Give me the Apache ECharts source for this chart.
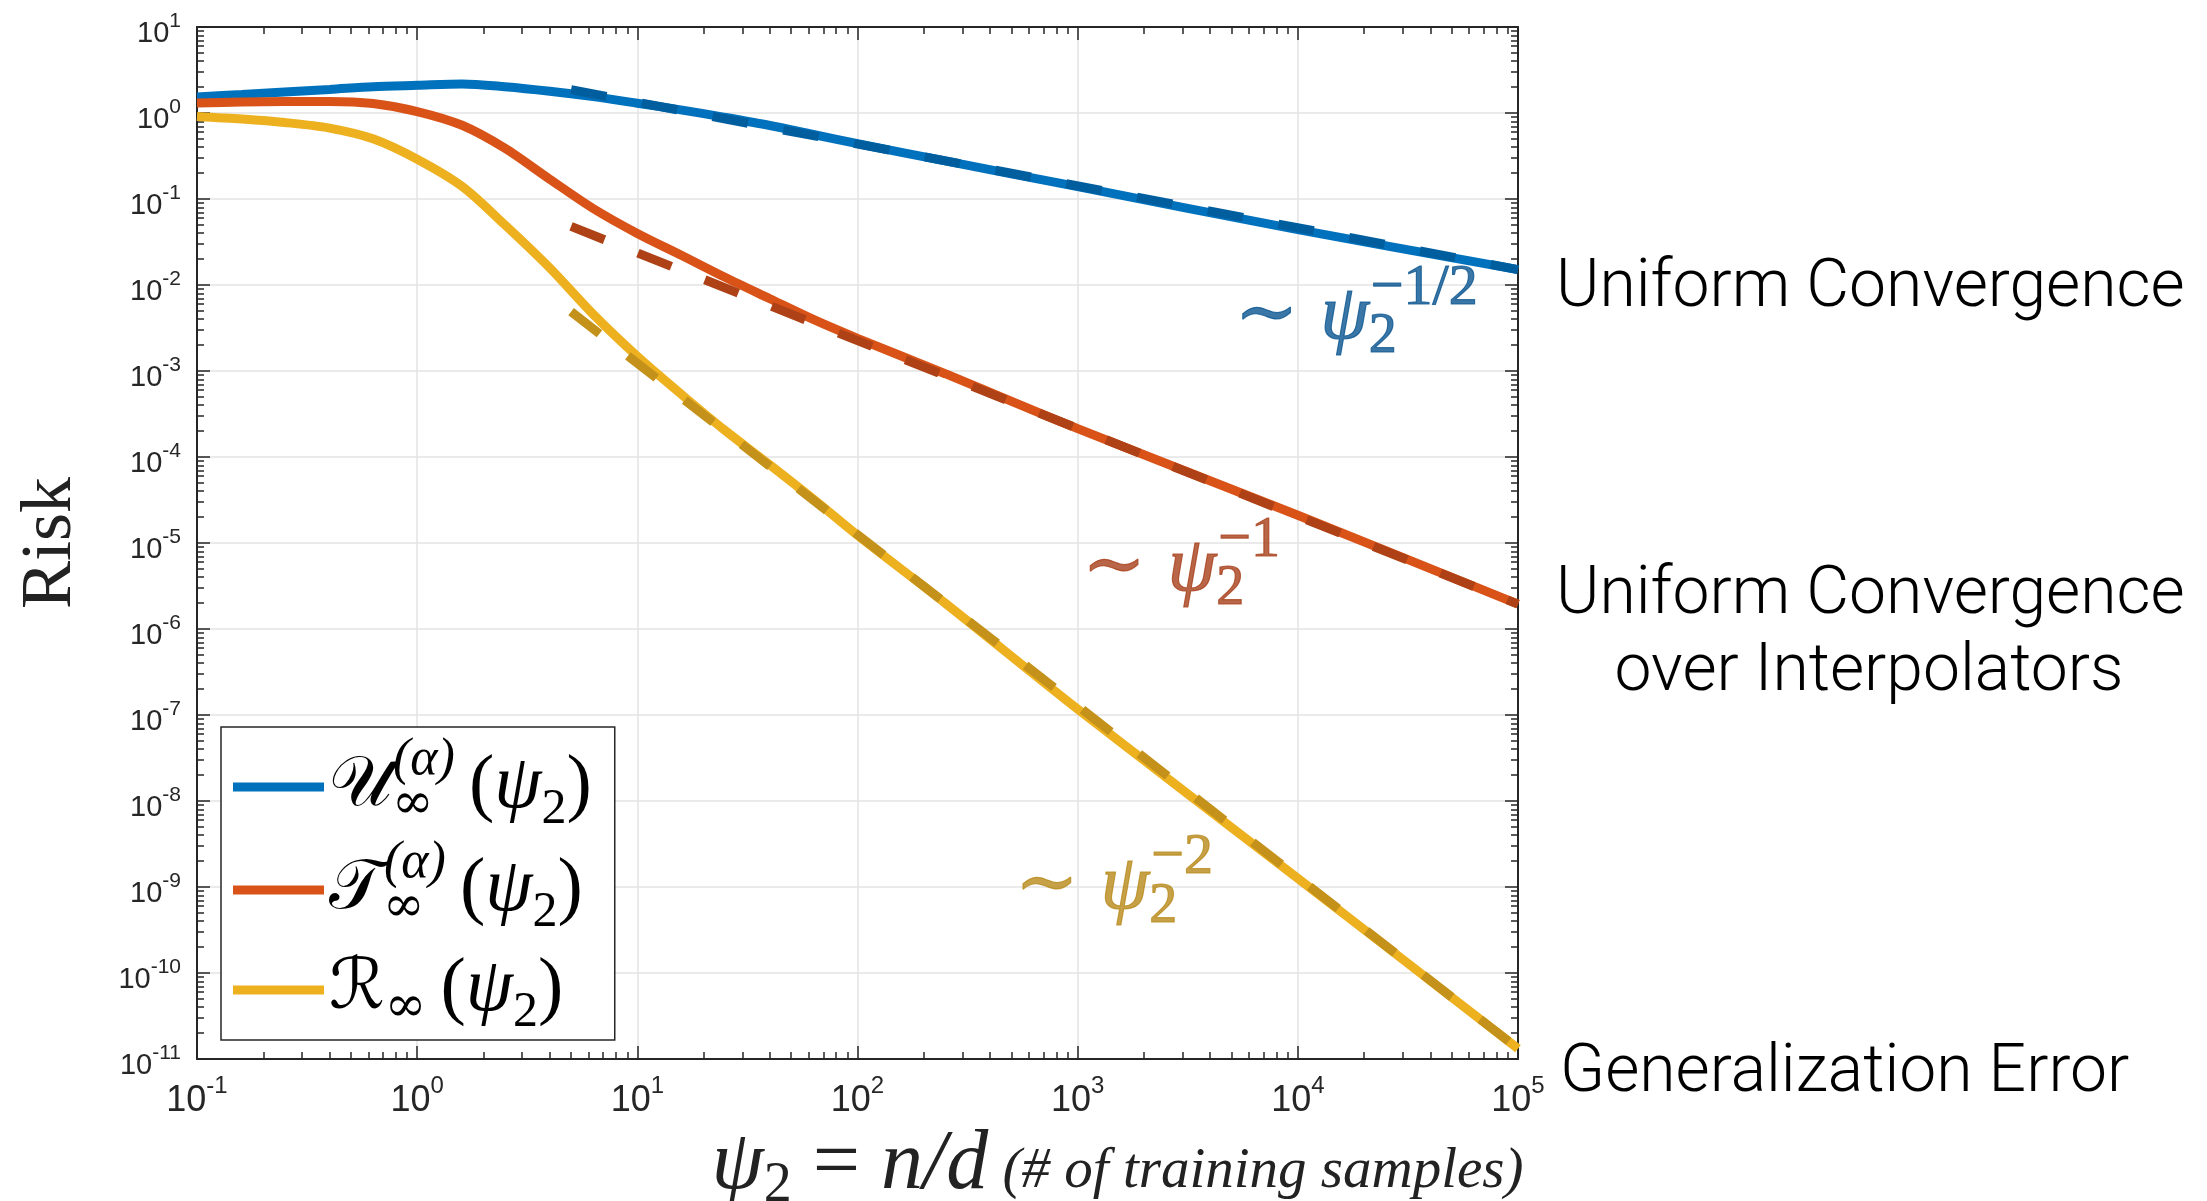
<!DOCTYPE html>
<html>
<head>
<meta charset="utf-8">
<script src="https://cdn.jsdelivr.net/npm/echarts@6/dist/echarts.min.js"></script>
<style>
  html, body { margin: 0; padding: 0; background: #fff; }
  #chart { width: 2207px; height: 1201px; }
</style>
</head>
<body>
<div id="chart"></div>
<script>
// psi_2 = n/d sample points
const psi = [0.1, 0.16, 0.25, 0.4, 0.63, 1, 1.6, 2.5, 4, 6.3, 10, 16, 25, 40, 63, 100, 250, 1000, 10000, 100000];
// U_inf^(alpha)(psi_2)  (uniform convergence)
const uniformRisk = [1.535, 1.64, 1.76, 1.88, 2.02, 2.10, 2.18, 2.02, 1.79, 1.55, 1.30, 1.08, 0.89, 0.716, 0.562, 0.44, 0.277, 0.139, 0.044, 0.0151];
// T_inf^(alpha)(psi_2)  (uniform convergence over interpolators)
const interpRisk = [1.31, 1.34, 1.36, 1.365, 1.29, 1.04, 0.72, 0.39, 0.17, 0.0776, 0.0398, 0.0219, 0.0123, 0.00692, 0.00398, 0.0024, 9.3e-4, 2.14e-4, 2.1e-5, 1.95e-6];
// R_inf(psi_2)  (generalization error)
const genRisk = [0.912, 0.851, 0.776, 0.668, 0.501, 0.29, 0.14, 0.0501, 0.0158, 0.00457, 0.00148, 5.25e-4, 2.04e-4, 8.1e-5, 3.24e-5, 1.23e-5, 2.0e-6, 1.17e-7, 1.26e-9, 1.32e-11];

// dashed power-law guides, start and end point
const asymPsi = [5, 100000];
const uniformAsym = [1.87, 0.0151];
const interpAsym = [0.048, 1.95e-6];
const genAsym = [0.0049, 1.32e-11];

// "~ psi_2^p" notes, anchored at the left of the ~ sign
const notePsi = [5140, 1043, 517];
const noteRisk = [4.17e-3, 4.9e-6, 1.0e-9];
const notePow = ['\u22121/2', '\u22121', '\u22122'];

// texts right of the plot
const sideNotes = ['Uniform Convergence', 'Uniform Convergence', 'over Interpolators', 'Generalization Error'];

// ticks
const xTicks = [0.1, 1, 10, 100, 1000, 10000, 100000];
const yTicks = [1e-11, 1e-10, 1e-9, 1e-8, 1e-7, 1e-6, 1e-5, 1e-4, 1e-3, 1e-2, 0.1, 1, 10];
const minorMant = [2, 3, 4, 5, 6, 7, 8, 9];
const xMinor = xTicks.slice(0, -1).flatMap(d => minorMant.map(m => +(m * d).toPrecision(3)));
const yMinor = yTicks.slice(0, -1).flatMap(d => minorMant.map(m => +(m * d).toPrecision(3)));

const blue = '#0072BD', red = '#D95319', yellow = '#EDB120';
const blueDash = '#005E9E', redDash = '#AE4216', yellowDash = '#C4921A';
const axisColor = '#262626';
const mathFont = '"Liberation Serif", "DejaVu Serif", serif';
const tickFont = '"Liberation Sans", Arial, sans-serif';
const narrowFont = '"Liberation Sans Narrow", "Liberation Sans", Arial, sans-serif';

const zip = (xs, ys) => xs.map((x, i) => [x, ys[i]]);

function expLabel(v) {
  return '{b|10}{s|' + Math.round(Math.log10(v)) + '}';
}

function logAxis(kind, position, ticks, tickLen, extra) {
  const base = kind === 'x' ? { min: 0.1, max: 100000 } : { min: 1e-11, max: 10 };
  return Object.assign({
    type: 'log', logBase: 10, position: position,
    min: base.min, max: base.max,
    axisLine: { show: false, onZero: false },
    axisTick: { show: true, inside: true, length: tickLen, customValues: ticks,
      lineStyle: { color: axisColor, width: 1.5 } },
    axisLabel: { show: false },
    splitLine: { show: false }
  }, extra || {});
}

const gridLine = { show: true, lineStyle: { color: '#e3e3e3', width: 1.5 } };
const frame = { show: true, onZero: false, lineStyle: { color: axisColor, width: 2 } };

const legendLabels = {
  U: '{cal|\u{1D4B0}}{inf0|\u221E}{al|(\u03B1)}{lp|(}{psi|\u03C8}{two|2}{rp|)}',
  T: '{cal|\u{1D4AF}}{inf0|\u221E}{al|(\u03B1)}{lp|(}{psi|\u03C8}{two|2}{rp|)}',
  R: '{cal|\u211B}{inf|\u221E}{lp|(}{psi|\u03C8}{two|2}{rp|)}'
};

const legendRich = {
  cal: { fontFamily: '"DejaVu Serif", "DejaVu Sans"', fontSize: 70, lineHeight: 100, color: '#000' },
  inf0: { fontFamily: '"DejaVu Serif"', fontSize: 50, height: 64, lineHeight: 100, verticalAlign: 'bottom', width: 1, color: '#000' },
  inf: { fontFamily: '"DejaVu Serif"', fontSize: 50, height: 64, lineHeight: 100, verticalAlign: 'bottom', color: '#000' },
  al: { fontFamily: mathFont, fontStyle: 'italic', fontSize: 52, height: 46, lineHeight: 100, verticalAlign: 'top', color: '#000' },
  lp: { fontFamily: mathFont, fontSize: 76, lineHeight: 100, padding: [0, 0, 0, 14], color: '#000' },
  psi: { fontFamily: mathFont, fontStyle: 'italic', fontSize: 76, lineHeight: 100, color: '#000' },
  two: { fontFamily: mathFont, fontSize: 50, height: 54, lineHeight: 100, verticalAlign: 'bottom', color: '#000' },
  rp: { fontFamily: mathFont, fontSize: 76, lineHeight: 100, color: '#000' }
};

function noteSeries(i, color) {
  const ink = { color: color, textBorderColor: color, textBorderWidth: 1.2 };
  return {
    type: 'scatter', silent: true, z: 6,
    symbolSize: 1, itemStyle: { color: 'rgba(0,0,0,0)' },
    data: [[notePsi[i], noteRisk[i]]],
    label: {
      show: true, position: 'right', distance: 0,
      formatter: '{t|\u223C}{p|\u03C8}{s|2}{u|' + notePow[i] + '}',
      rich: {
        t: Object.assign({ fontFamily: '"DejaVu Serif"', fontSize: 76, lineHeight: 100, padding: [0, 22, 0, 0] }, ink),
        p: Object.assign({ fontFamily: mathFont, fontStyle: 'italic', fontSize: 78, lineHeight: 100 }, ink),
        s: Object.assign({ fontFamily: mathFont, fontSize: 56, height: 60, lineHeight: 100, verticalAlign: 'bottom', width: 2 }, ink),
        u: Object.assign({ fontFamily: mathFont, fontSize: 58, height: 42, lineHeight: 100, verticalAlign: 'top' }, ink)
      }
    }
  };
}

function solid(name, ys, color) {
  return {
    name: name, type: 'line', data: zip(psi, ys), smooth: 0.3,
    showSymbol: false, silent: true, z: 2,
    lineStyle: { width: 9, color: color }, itemStyle: { color: color }
  };
}

function dashed(ys, color) {
  return {
    type: 'line', data: zip(asymPsi, ys), showSymbol: false, silent: true, z: 3,
    lineStyle: { width: 9, color: color, type: [36, 36] }, itemStyle: { color: color }
  };
}

const sideFont = 'Roboto, "Liberation Sans", Arial, sans-serif';
function sideText(text, x, y, size, align) {
  return {
    type: 'text', x: x, y: y,
    style: { text: text, fontFamily: sideFont, fontWeight: 300, fontSize: size, fill: '#000',
      align: align, verticalAlign: 'middle', textAlign: align, textVerticalAlign: 'middle' }
  };
}

const chart = echarts.init(document.getElementById('chart'), null, { renderer: 'canvas' });

chart.setOption({
  animation: false,
  backgroundColor: '#fff',
  grid: { left: 197, top: 27, width: 1321, height: 1032, containLabel: false, outerBoundsMode: 'none' },
  xAxis: [
    logAxis('x', 'bottom', xTicks, 13, {
      axisLine: frame,
      splitLine: gridLine,
      axisLabel: {
        show: true, customValues: xTicks, margin: 17, formatter: expLabel,
        color: axisColor, fontFamily: narrowFont,
        rich: {
          b: { fontSize: 36, height: 30, lineHeight: 40, verticalAlign: 'bottom', color: axisColor, fontFamily: narrowFont },
          s: { fontSize: 24, height: 20, lineHeight: 40, verticalAlign: 'top', color: axisColor, fontFamily: narrowFont }
        }
      },
      name: '{p|\u03C8}{s|2}{e| = }{i|n/d}{h| (# of training samples)}',
      nameLocation: 'middle', nameGap: 62,
      nameTextStyle: {
        padding: [0, 0, 0, 520],
        rich: {
          p: { fontFamily: mathFont, fontStyle: 'italic', fontSize: 84, lineHeight: 84, color: '#222' },
          s: { fontFamily: mathFont, fontSize: 56, height: 44, lineHeight: 84, verticalAlign: 'bottom', color: '#222' },
          e: { fontFamily: mathFont, fontSize: 84, lineHeight: 84, color: '#222' },
          i: { fontFamily: mathFont, fontStyle: 'italic', fontSize: 84, lineHeight: 84, color: '#222' },
          h: { fontFamily: mathFont, fontStyle: 'italic', fontSize: 57, height: 72, lineHeight: 84, verticalAlign: 'bottom', color: '#222' }
        }
      }
    }),
    logAxis('x', 'bottom', xMinor, 7),
    logAxis('x', 'top', xTicks, 13, { axisLine: frame }),
    logAxis('x', 'top', xMinor, 7)
  ],
  yAxis: [
    logAxis('y', 'left', yTicks, 13, {
      axisLine: frame,
      splitLine: gridLine,
      axisLabel: {
        show: true, customValues: yTicks, margin: 16, formatter: expLabel,
        color: axisColor, fontFamily: tickFont,
        rich: {
          b: { fontSize: 29, height: 28, lineHeight: 42, verticalAlign: 'bottom', color: axisColor, fontFamily: tickFont },
          s: { fontSize: 21, height: 30, lineHeight: 42, verticalAlign: 'top', color: axisColor, fontFamily: tickFont }
        }
      },
      name: 'Risk', nameLocation: 'middle', nameRotate: 90, nameGap: 110,
      nameTextStyle: { fontFamily: mathFont, fontSize: 72, lineHeight: 72, color: '#222' }
    }),
    logAxis('y', 'left', yMinor, 7),
    logAxis('y', 'right', yTicks, 13, { axisLine: frame }),
    logAxis('y', 'right', yMinor, 7)
  ],
  legend: {
    data: ['U', 'T', 'R'],
    orient: 'vertical', left: 221, top: 727,
    padding: [7, 23, 0, 12], itemGap: 0,
    itemWidth: 91, itemHeight: 9, icon: 'rect',
    backgroundColor: '#fff', borderColor: axisColor, borderWidth: 1.5, borderRadius: 0,
    formatter: n => legendLabels[n],
    textStyle: { backgroundColor: 'rgba(255,255,255,0)', lineHeight: 100, rich: legendRich }
  },
  graphic: [
    sideText(sideNotes[0], 1556, 289, 66, 'left'),
    sideText(sideNotes[1], 1556, 596, 66, 'left'),
    sideText(sideNotes[2], 1869, 673, 66, 'center'),
    sideText(sideNotes[3], 1560, 1074, 66, 'left')
  ],
  series: [
    solid('U', uniformRisk, blue),
    solid('T', interpRisk, red),
    solid('R', genRisk, yellow),
    dashed(uniformAsym, blueDash),
    dashed(interpAsym, redDash),
    dashed(genAsym, yellowDash),
    noteSeries(0, '#0A5590'),
    noteSeries(1, '#A8401A'),
    noteSeries(2, '#B8891A')
  ]
});
</script>
</body>
</html>
